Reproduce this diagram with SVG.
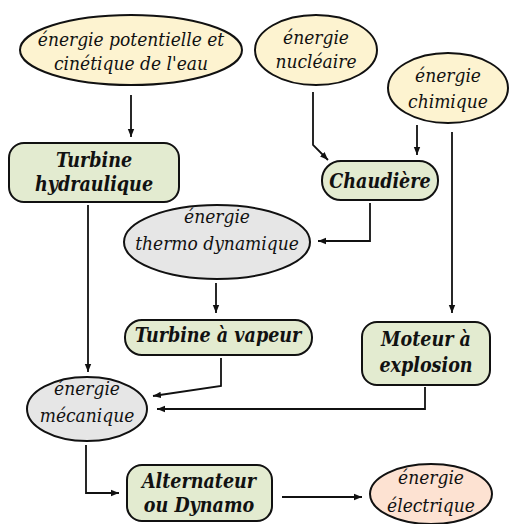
<svg xmlns="http://www.w3.org/2000/svg" width="512" height="524" viewBox="0 0 512 524">
<style>
.n{stroke:#111;stroke-width:2}
.y{fill:#fdf3d0}.g{fill:#e3ebd0}.gr{fill:#e6e6e6}.p{fill:#fde2d2}
text{font-family:"DejaVu Serif Condensed","DejaVu Serif",serif;font-stretch:condensed;font-style:italic;font-size:19px;fill:#111;text-anchor:middle}
.b{font-weight:bold;font-size:19.5px}
.c{fill:none;stroke:#111;stroke-width:1.8}
</style>
<defs><marker id="a" viewBox="0 0 10 10" refX="10" refY="5" markerWidth="8" markerHeight="8" markerUnits="userSpaceOnUse" orient="auto"><path d="M0,1 L10,5 L0,9 Z" fill="#111"/></marker></defs>
<rect width="512" height="524" fill="#fff"/>
<g id="connectors">
<path class="c" d="M131,95 V137" marker-end="url(#a)"/>
<path class="c" d="M313,92 V145 L328,160" marker-end="url(#a)"/>
<path class="c" d="M417,125 V155" marker-end="url(#a)"/>
<path class="c" d="M452,132 V313" marker-end="url(#a)"/>
<path class="c" d="M370,203 V241 H318" marker-end="url(#a)"/>
<path class="c" d="M216,283 V313" marker-end="url(#a)"/>
<path class="c" d="M88,205 V372" marker-end="url(#a)"/>
<path class="c" d="M221,358 V386 L153,396" marker-end="url(#a)"/>
<path class="c" d="M425,387 V409 H157" marker-end="url(#a)"/>
<path class="c" d="M86,445 V493 H119" marker-end="url(#a)"/>
<path class="c" d="M282,497 H362" marker-end="url(#a)"/>
</g>
<g id="eau"><ellipse class="n y" cx="131" cy="50" rx="111" ry="35"/><text x="131" y="46">énergie potentielle et</text><text x="131" y="70">cinétique de l'eau</text></g>
<g id="nucleaire"><ellipse class="n y" cx="316" cy="50" rx="61" ry="35"/><text x="316" y="44">énergie</text><text x="316" y="68">nucléaire</text></g>
<g id="chimique"><ellipse class="n y" cx="448" cy="88" rx="60" ry="35"/><text x="448" y="82">énergie</text><text x="448" y="108">chimique</text></g>
<g id="turbine-hydraulique"><rect class="n g" x="9" y="143" width="170" height="59" rx="15"/><text class="b" x="94" y="167">Turbine</text><text class="b" x="94" y="191">hydraulique</text></g>
<g id="chaudiere"><rect class="n g" x="322" y="161" width="116" height="39" rx="19"/><text class="b" x="380" y="188">Chaudière</text></g>
<g id="thermo"><ellipse class="n gr" cx="217" cy="242" rx="93" ry="37"/><text x="217" y="223">énergie</text><text x="217" y="250">thermo dynamique</text></g>
<g id="turbine-vapeur"><rect class="n g" x="125" y="320" width="187" height="35" rx="17"/><text class="b" x="218" y="342">Turbine à vapeur</text></g>
<g id="moteur"><rect class="n g" x="362" y="322" width="128" height="63" rx="15"/><text class="b" x="426" y="346">Moteur à</text><text class="b" x="426" y="372">explosion</text></g>
<g id="mecanique"><ellipse class="n gr" cx="87" cy="409" rx="60" ry="32"/><text x="87" y="395">énergie</text><text x="87" y="422">mécanique</text></g>
<g id="alternateur"><rect class="n g" x="127" y="465" width="145" height="56" rx="15"/><text class="b" x="199" y="488">Alternateur</text><text class="b" x="199" y="512">ou Dynamo</text></g>
<g id="electrique"><ellipse class="n p" cx="431" cy="494" rx="61" ry="30"/><text x="431" y="484">énergie</text><text x="431" y="512">électrique</text></g>
</svg>
